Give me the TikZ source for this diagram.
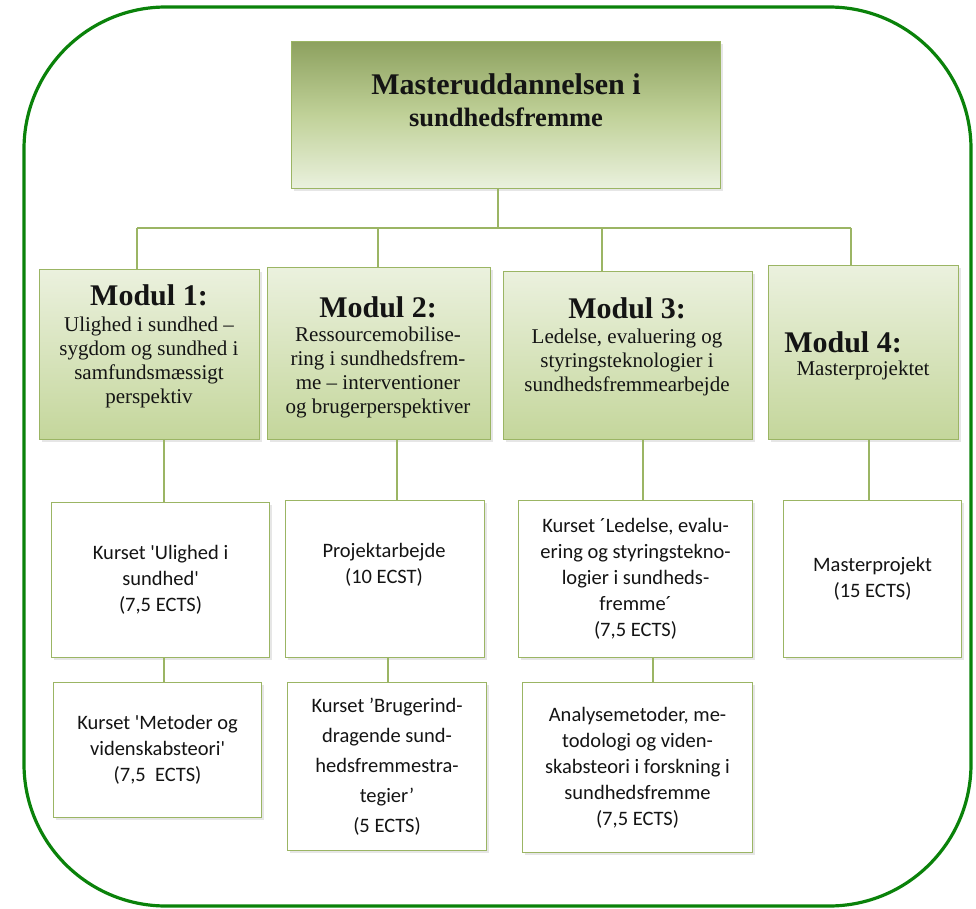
\documentclass[tikz,border=0pt]{standalone}
\usepackage{fontspec}
\setmainfont{Liberation Serif}
\newfontfamily\calib[Ligatures=TeXOff]{Carlito}
\usetikzlibrary{shadows}
\definecolor{boxline}{RGB}{155,181,100}
\definecolor{outergreen}{RGB}{10,130,10}
\definecolor{topdark}{RGB}{141,161,95}
\definecolor{topmid}{RGB}{192,209,152}
\definecolor{toplight}{RGB}{234,241,222}
\definecolor{modtop}{RGB}{235,241,222}
\definecolor{modbot}{RGB}{196,214,155}
\definecolor{txt}{RGB}{20,20,20}
\begin{document}
\begin{tikzpicture}[x=1pt,y=-1pt,
  base/.style={draw=boxline, line width=1.1pt, anchor=north west, inner sep=0pt,
    drop shadow={shadow xshift=2.5pt, shadow yshift=-2.5pt, opacity=0.2}},
  topbox/.style={base, top color=topdark, bottom color=toplight, middle color=topmid},
  modbox/.style={base, top color=modtop, bottom color=modbot},
  crsbox/.style={base, fill=white, font=\calib\fontsize{20.5}{26}\selectfont, align=center, text=txt},
  crstext/.style={font=\calib\fontsize{20.5}{26}\selectfont, align=center, text=txt},
  modhead/.style={font=\fontsize{30}{32}\selectfont\bfseries, text=txt},
  modsub/.style={font=\fontsize{21}{24}\selectfont, align=center, text=txt},
  link/.style={draw=boxline, line width=1.2pt},
]
\useasboundingbox (0,0) rectangle (976,909);
\draw[outergreen, line width=3.2pt, rounded corners=142pt] (24,7) rectangle (971,906);

% top box
\node[topbox, minimum width=429pt, minimum height=147pt] (top) at (291,41) {};
\node[font=\fontsize{30}{34}\selectfont\bfseries, text=txt] (tt1) at (506,84) {Masteruddannelsen i};
\node[font=\fontsize{26.5}{30}\selectfont\bfseries, text=txt] (tt2) at (506,117) {sundhedsfremme};

% modules
\node[modbox, minimum width=220pt, minimum height=170pt] (m1) at (39,269) {};
\node[modbox, minimum width=223pt, minimum height=172pt] (m2) at (267,267) {};
\node[modbox, minimum width=249pt, minimum height=168pt] (m3) at (503,271) {};
\node[modbox, minimum width=190pt, minimum height=174pt] (m4) at (768,265) {};

\node[modhead] (m1h) at (149,295) {Modul 1:};
\node[modsub] (m1s) at (149,362.5) {Ulighed i sundhed –\\sygdom og sundhed i\\samfundsmæssigt\\perspektiv};
\node[modhead] (m2h) at (378,307) {Modul 2:};
\node[modsub] (m2s) at (378,372.5) {Ressourcemobilise-\\ring i sundhedsfrem-\\me – interventioner\\og brugerperspektiver};
\node[modhead] (m3h) at (627,308) {Modul 3:};
\node[modsub] (m3s) at (627,362) {Ledelse, evaluering og\\styringsteknologier i\\sundhedsfremmearbejde};
\node[modhead] (m4h) at (843,342) {Modul 4:};
\node[modsub] (m4s) at (863,370) {Masterprojektet};

% courses
\node[crsbox, minimum width=218pt, minimum height=155pt] (c1a) at (51,502)
  {Kurset 'Ulighed i\\sundhed'\\(7,5 ECTS)};
\node[crsbox, minimum width=199pt, minimum height=157pt] (c2a) at (285,500) {};
\node[crstext] (c2at) at (384,565) {Projektarbejde\\(10 ECST)};
\node[crsbox, minimum width=234pt, minimum height=157pt] (c3a) at (518,500)
  {Kurset ´Ledelse, evalu-\\ering og styringstekno-\\logier i sundheds-\\fremme´\\(7,5 ECTS)};
\node[crsbox, minimum width=178pt, minimum height=157pt] (c4a) at (783,500)
  {Masterprojekt\\(15 ECTS)};
\node[crsbox, minimum width=208pt, minimum height=135pt] (c1b) at (53,682)
  {Kurset 'Metoder og\\videnskabsteori'\\(7,5\ \ ECTS)};
\node[crsbox, minimum width=199pt, minimum height=168pt, font=\calib\fontsize{20.5}{30}\selectfont] (c2b) at (287,682)
  {Kurset ’Brugerind-\\dragende sund-\\hedsfremmestra-\\tegier’\\(5 ECTS)};
\node[crsbox, minimum width=230pt, minimum height=170pt] (c3b) at (522,682)
  {Analysemetoder, me-\\todologi og viden-\\skabsteori i forskning i\\sundhedsfremme\\(7,5 ECTS)};

% connectors top -> modules
\coordinate (d0) at (498,228);
\coordinate (d1) at (137,228);
\coordinate (d2) at (378,228);
\coordinate (d3) at (602,228);
\coordinate (d4) at (851,228);
\draw[link] (top.south -| d0) -- (d0);
\draw[link] (d1) -- (d4);
\draw[link] (d1) -- (d1 |- m1.north);
\draw[link] (d2) -- (d2 |- m2.north);
\draw[link] (d3) -- (d3 |- m3.north);
\draw[link] (d4) -- (d4 |- m4.north);

% connectors modules -> courses
\coordinate (k1) at (164,0);
\coordinate (k2) at (397,0);
\coordinate (k2b) at (388,0);
\coordinate (k3) at (643,0);
\coordinate (k3b) at (653,0);
\coordinate (k4) at (869,0);
\draw[link] (m1.south -| k1) -- (c1a.north -| k1);
\draw[link] (c1a.south -| k1) -- (c1b.north -| k1);
\draw[link] (m2.south -| k2) -- (c2a.north -| k2);
\draw[link] (c2a.south -| k2b) -- (c2b.north -| k2b);
\draw[link] (m3.south -| k3) -- (c3a.north -| k3);
\draw[link] (c3a.south -| k3b) -- (c3b.north -| k3b);
\draw[link] (m4.south -| k4) -- (c4a.north -| k4);
\end{tikzpicture}
\end{document}
